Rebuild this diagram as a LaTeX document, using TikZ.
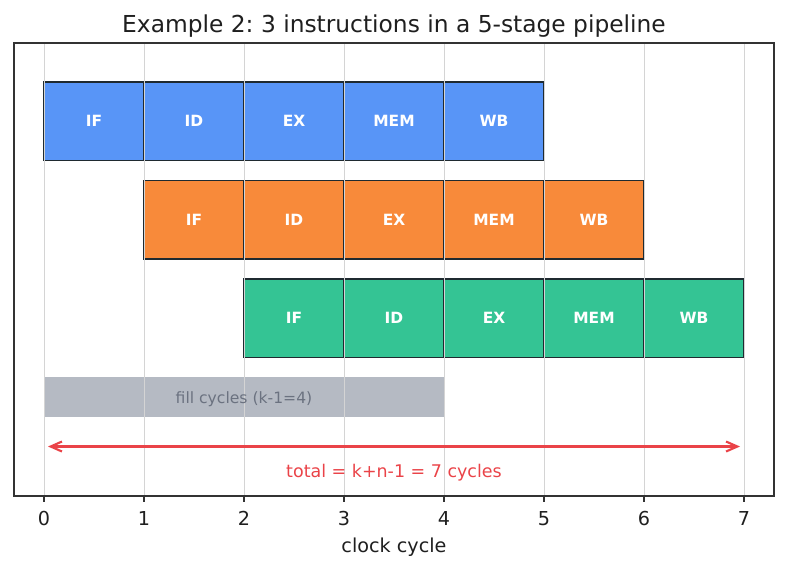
\documentclass[tikz,border=0pt]{standalone}
\usepackage{fontspec}
\setmainfont{DejaVu Sans}
\usetikzlibrary{arrows.meta}
\frenchspacing
\definecolor{cblue}{HTML}{5895F7}
\definecolor{corange}{HTML}{F88A3A}
\definecolor{cgreen}{HTML}{34C494}
\definecolor{cfill}{HTML}{B5BAC3}
\definecolor{cfilltext}{HTML}{6B7280}
\definecolor{cred}{HTML}{EA4348}
\definecolor{cedge}{HTML}{1F2A30}
\definecolor{cgrid}{HTML}{D4D4D4}
\definecolor{cframe}{HTML}{333333}
\begin{document}
\begin{tikzpicture}[x=0.75pt,y=-0.75pt,
  cell/.style={draw=cedge, line width=1.1pt, minimum width=75pt, minimum height=59.1pt,
    inner sep=0pt, outer sep=0pt, text=white, font=\fontsize{11.6}{12}\selectfont\bfseries},
  gridline/.style={draw=cgrid, line width=0.6pt},
  tick/.style={draw=cframe, line width=0.8pt},
  ticklabel/.style={anchor=base, font=\fontsize{14.4}{16}\selectfont, text=black!88},
  >={Straight Barb[length=8.5pt,width=7.5pt,line width=1.6pt]},
]
\useasboundingbox (0,0) rectangle (787,569);
% title
\node[anchor=base, font=\fontsize{17.5}{20}\selectfont, text=black!88] (title) at (394,32) {Example 2: 3 instructions in a 5-stage pipeline};
% instruction 1
\foreach \s [count=\j from 0] in {IF,ID,EX,MEM,WB}{
  \node[cell, fill=cblue] (a\j) at (94+100*\j,121.2) {\s};
}
% instruction 2
\foreach \s [count=\j from 0] in {IF,ID,EX,MEM,WB}{
  \node[cell, fill=corange] (b\j) at (194+100*\j,219.7) {\s};
}
% instruction 3
\foreach \s [count=\j from 0] in {IF,ID,EX,MEM,WB}{
  \node[cell, fill=cgreen] (c\j) at (294+100*\j,318.2) {\s};
}
% fill cycles bar
\node[fill=cfill, minimum width=300pt, minimum height=29.5pt, inner sep=0pt, outer sep=0pt] (fillbar) at (244,397) {};
% grid
\foreach \i in {0,...,7}{
  \draw[gridline] (44+100*\i,43) -- (44+100*\i,496);
}
\node[anchor=base, font=\fontsize{11.7}{13}\selectfont, text=cfilltext] (filltext) at (244,403) {fill cycles (k-1=4)};
% total arrow
\coordinate (aL) at (48,446.5);
\coordinate (aR) at (740,446.5);
\draw[cred, line width=1.6pt, <->] (aL) -- (aR);
\node[anchor=base, font=\fontsize{13.1}{15}\selectfont, text=cred] (total) at (394,477) {total = k+n-1 = 7 cycles};
% frame
\draw[cframe, line width=1.1pt] (14,43) rectangle (774,496);
% ticks
\foreach \i in {0,...,7}{
  \draw[tick] (44+100*\i,496) -- (44+100*\i,502);
  \node[ticklabel] (t\i) at (44+100*\i,525) {\i};
}
\node[anchor=base, font=\fontsize{14.4}{16}\selectfont, text=black!88] (xlabel) at (394,552) {clock cycle};
\end{tikzpicture}
\end{document}
